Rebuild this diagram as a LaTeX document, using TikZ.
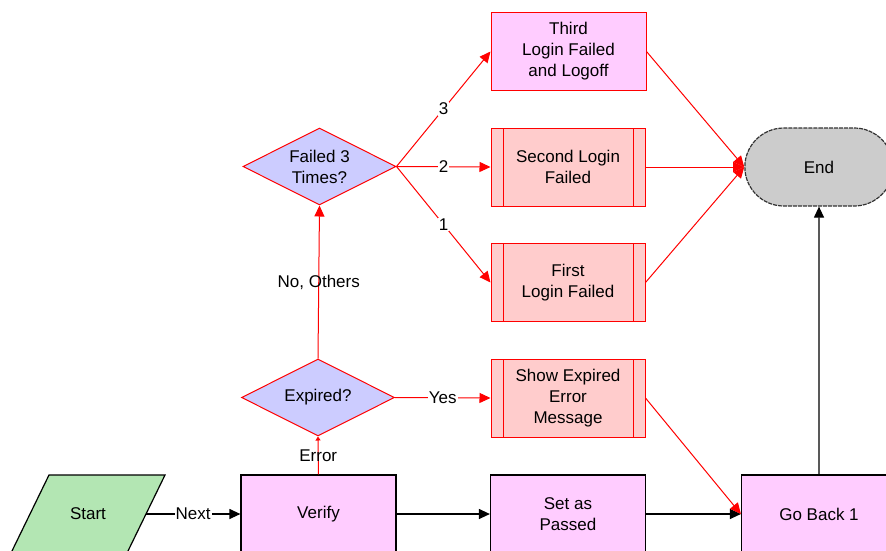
\documentclass[tikz,border=0pt]{standalone}
\usepackage{fontspec}
\setmainfont{Liberation Sans}
\usetikzlibrary{shapes.geometric,shapes.misc,arrows.meta}
\definecolor{procpink}{HTML}{FFCCFF}
\definecolor{subred}{HTML}{FFCCCC}
\definecolor{askblue}{HTML}{CCCCFF}
\definecolor{startgreen}{HTML}{B3E6B3}
\definecolor{endgray}{HTML}{CCCCCC}
\definecolor{flowred}{HTML}{FF0000}
\begin{document}
\begin{tikzpicture}
[x=1pt,y=-1pt,font=\fontsize{17}{21}\selectfont,
  procdecorate/.style={shape=rectangle,draw=black,line width=1.2pt,fill=procpink,
    minimum width=155pt,minimum height=78pt,align=center,inner sep=2pt},
  subdecorate/.style={shape=rectangle,draw=flowred,line width=1pt,fill=subred,
    minimum width=154pt,minimum height=78pt,align=center,inner sep=2pt,
    path picture={\draw[flowred,line width=1pt]
      ([xshift=12pt]path picture bounding box.north west) -- ([xshift=12pt]path picture bounding box.south west)
      ([xshift=-12pt]path picture bounding box.north east) -- ([xshift=-12pt]path picture bounding box.south east);}},
  askdecorate/.style={shape=diamond,draw=flowred,line width=1pt,fill=askblue,aspect=2,
    minimum width=153pt,minimum height=77pt,align=center,inner sep=0pt},
  startdecorate/.style={draw=black,line width=1.2pt,fill=startgreen},
  enddecorate/.style={shape=rounded rectangle,draw=black!80,line width=1.2pt,
    dash pattern=on 4pt off 1pt,fill=endgray,minimum width=155pt,minimum height=78pt},
  blackline/.style={-{Triangle[length=11pt,width=10pt]},line width=1.2pt,draw=black},
  redline/.style={-{Triangle[length=11pt,width=10pt]},line width=1pt,draw=flowred},
  labeldecorate/.style={fill=white,inner sep=1pt}]
\useasboundingbox (0,0) rectangle (886,550);
%% nodes or vertices
\draw[startdecorate] (49,475) -- (165,475) -- (127,553) -- (11,553) -- cycle;
\node (start) at (88,514) {Start};
\coordinate (startout) at (146,514);
\foreach \nodename/\x/\y/\nodetext in {verify/318.5/514/Verify,
  passed/568/514/{Set as\\Passed}, goback/819/514/{Go Back 1}}
{
  \node (\nodename) at (\x,\y) [procdecorate] {\nodetext};
}
\node (third) at (568.5,51.5) [procdecorate,draw=flowred,line width=1pt]
  {Third\\Login Failed\\and Logoff};
\foreach \nodename/\x/\y/\nodetext in {second/568/167/{Second Login\\Failed},
  first/568/282.5/{First\\Login Failed}, showexp/568/398/{Show Expired\\Error\\Message}}
{
  \node (\nodename) at (\x,\y) [subdecorate] {\nodetext};
}
\foreach \nodename/\x/\y/\nodetext in {expired/318/397.5/Expired?,
  failed/319.5/166.5/{Failed 3\\Times?}}
{
  \node (\nodename) at (\x,\y) [askdecorate] {\nodetext};
}
\node (end) at (819,167) [enddecorate] {End};
%% edges or lines
\path
\foreach \startnode/\endnode in {verify/passed, passed/goback,
  goback/end}
{
  (\startnode) edge[blackline] (\endnode)
};
\path (startout) edge[blackline] node[labeldecorate] {Next} (verify.west);
\path
\foreach \startnode/\endnode/\edgetext in {expired.east/showexp.west/Yes,
  failed.east/third.west/3, failed.east/second.west/2, failed.east/first.west/1}
{
  (\startnode) edge[redline] node[labeldecorate] {\edgetext} (\endnode)
};
\path (verify.north) edge[redline,-{Triangle[length=4pt,width=5pt]}] node {Error} (expired.south);
\path (expired.north) edge[redline] node {No, Others} (failed.south);
\path
\foreach \startnode/\endnode in {third.east/end.west, second.east/end.west,
  first.east/end.west, showexp.east/goback.west}
{
  (\startnode) edge[redline] (\endnode)
};
\end{tikzpicture}
\end{document}
